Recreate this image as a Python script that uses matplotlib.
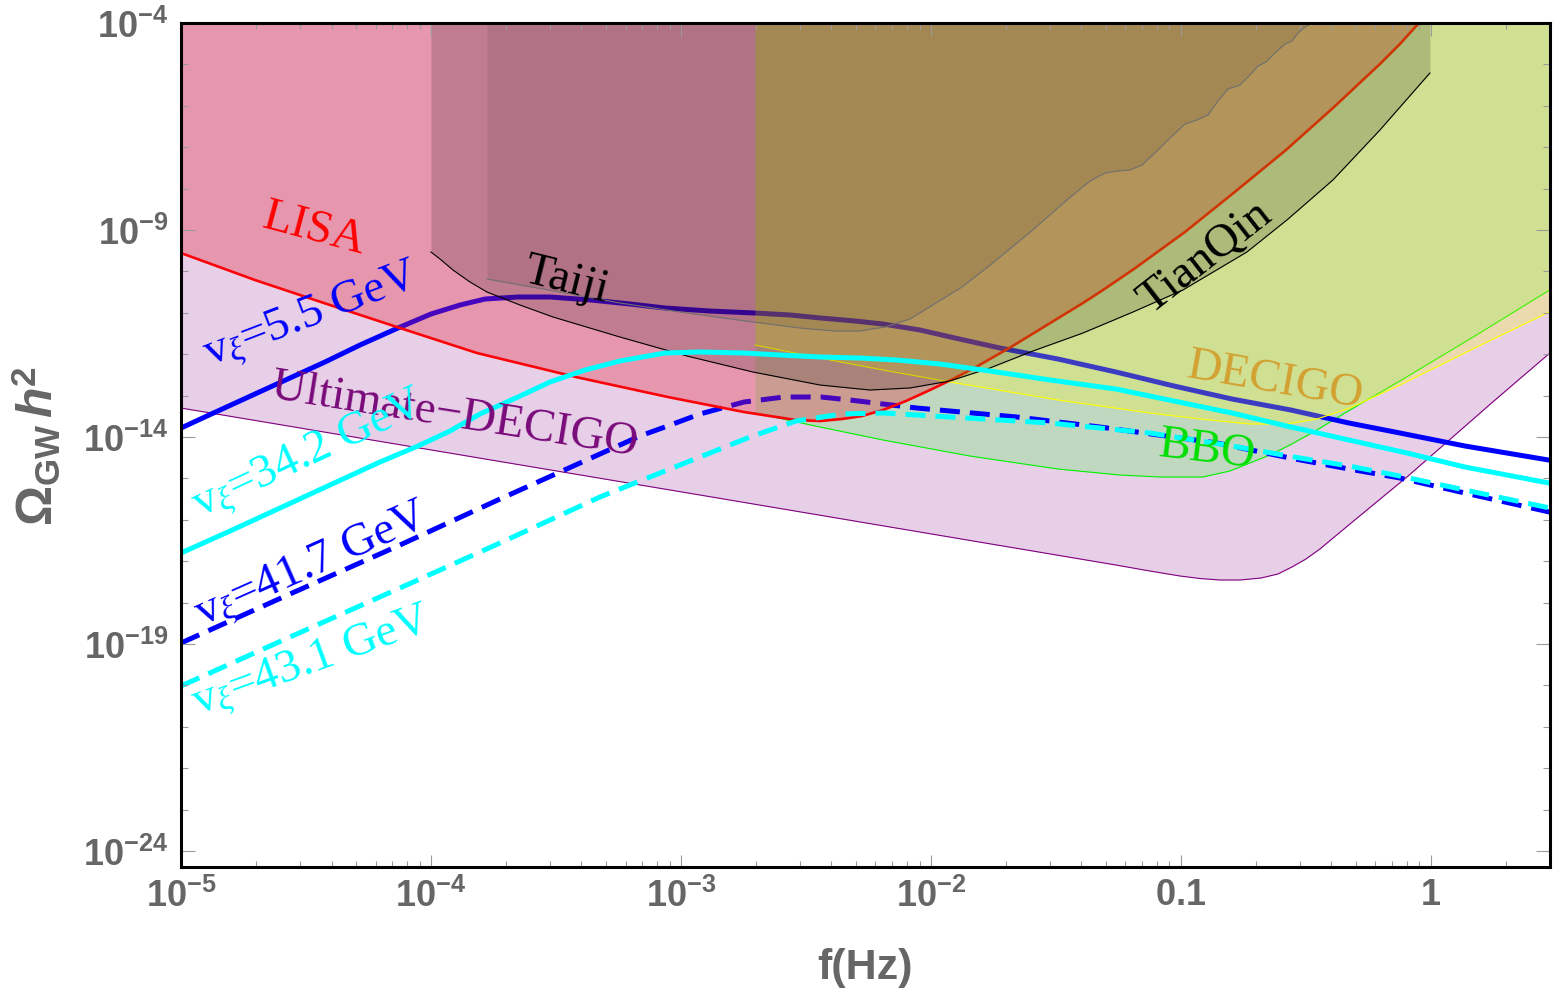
import numpy as np
import matplotlib
matplotlib.use("Agg")
import matplotlib.pyplot as plt
from matplotlib import font_manager as fm
from matplotlib.ticker import FixedLocator, FixedFormatter, NullFormatter

# ---------------- data: log10(f/Hz) and log10(Omega h^2) ----------------
lisa_logf = [-5.000, -4.704, -4.404, -4.124, -3.816, -3.420, -3.052, -2.748, -2.540, -2.444,
             -2.356, -2.276, -2.192, -2.100, -2.004, -1.912, -1.820, -1.680, -1.536, -1.392,
             -1.324, -1.188, -0.984, -0.780, -0.580, -0.392, -0.204, -0.124, -0.048]
lisa_logomega = [-9.556, -10.208, -10.812, -11.367, -11.971, -12.551, -13.034, -13.396, -13.589, -13.614,
                 -13.565, -13.493, -13.348, -13.130, -12.865, -12.599, -12.309, -11.826, -11.295, -10.763,
                 -10.498, -9.942, -9.048, -8.058, -7.068, -6.053, -4.990, -4.507, -4.000]

tianqin_logf = [-4.000, -3.964, -3.912, -3.844, -3.776, -3.644, -3.512, -3.244, -2.976, -2.712,
                -2.444, -2.244, -2.084, -1.924, -1.764, -1.592, -1.392, -1.192, -0.992, -0.736,
                -0.576, -0.392, -0.204, -0.004]
tianqin_logomega = [-9.531, -9.700, -9.966, -10.256, -10.498, -10.812, -11.101, -11.585, -12.043, -12.430,
                    -12.744, -12.865, -12.816, -12.647, -12.333, -11.923, -11.488, -10.981, -10.449, -9.531,
                    -8.758, -7.792, -6.585, -5.208]

taiji_logf = [-3.776, -3.484, -3.244, -2.976, -2.712, -2.524, -2.384, -2.284, -2.184, -2.084,
              -1.980, -1.876, -1.768, -1.612, -1.456, -1.364, -1.304, -1.252, -1.204, -1.156,
              -1.100, -1.044, -0.984, -0.936, -0.892, -0.852, -0.812, -0.764, -0.724, -0.692,
              -0.660, -0.620, -0.584, -0.556, -0.532, -0.504, -0.476]
taiji_logomega = [-10.184, -10.498, -10.763, -11.005, -11.222, -11.367, -11.440, -11.440, -11.343, -11.150,
                  -10.763, -10.377, -9.870, -9.097, -8.275, -7.816, -7.623, -7.575, -7.551, -7.430,
                  -7.116, -6.778, -6.440, -6.343, -6.222, -5.884, -5.594, -5.498, -5.256, -5.039,
                  -4.942, -4.700, -4.507, -4.435, -4.242, -4.097, -4.000]

decigo_logf = [-2.704, -2.444, -2.192, -1.924, -1.492, -1.124, -0.924, -0.724, -0.576, -0.456,
               -0.324, -0.124, 0.176, 0.48]
decigo_logomega = [-11.778, -12.092, -12.382, -12.671, -13.106, -13.420, -13.565, -13.686, -13.686, -13.565,
                   -13.300, -12.744, -11.850, -10.960]

bbo_logf = [-2.704, -2.444, -2.192, -1.844, -1.492, -1.244, -1.084, -0.912, -0.804, -0.724,
            -0.644, -0.564, -0.456, -0.324, -0.124, 0.176, 0.48]
bbo_logomega = [-13.420, -13.758, -14.072, -14.459, -14.773, -14.918, -14.966, -14.966, -14.821, -14.628,
                -14.435, -14.193, -13.831, -13.348, -12.647, -11.560, -10.430]

udecigo_logf = [-5.000, -2.924, -1.260, -1.124, -1.004, -0.924, -0.844, -0.764, -0.680, -0.612,
                -0.556, -0.500, -0.444, -0.324, -0.096, 0.252, 0.48]
udecigo_logomega = [-13.300, -15.401, -17.092, -17.237, -17.357, -17.418, -17.454, -17.454, -17.406, -17.309,
                    -17.140, -16.947, -16.705, -16.101, -14.966, -13.130, -11.950]

v55_logf = [-5.000, -4.844, -4.704, -4.564, -4.424, -4.284, -4.132, -4.000, -3.884, -3.784,
            -3.652, -3.524, -3.360, -3.204, -3.064, -2.884, -2.704, -2.564, -2.440, -2.304,
            -2.192, -2.044, -1.904, -1.724, -1.492, -1.260, -1.028, -0.796, -0.560, -0.328,
            -0.124, 0.136, 0.48]
v55_logomega = [-13.783, -13.348, -12.961, -12.575, -12.188, -11.778, -11.367, -11.029, -10.812, -10.667,
                -10.618, -10.618, -10.691, -10.787, -10.884, -10.957, -11.005, -11.053, -11.126, -11.198,
                -11.271, -11.415, -11.609, -11.850, -12.116, -12.430, -12.768, -13.082, -13.348, -13.662,
                -13.903, -14.217, -14.565]

v342_logf = [-5.000, -4.804, -4.604, -4.404, -4.204, -4.052, -3.924, -3.804, -3.652, -3.524,
             -3.384, -3.244, -3.064, -2.924, -2.748, -2.604, -2.440, -2.284, -2.136, -1.964,
             -1.792, -1.656, -1.524, -1.260, -1.028, -0.796, -0.560, -0.328, -0.096, 0.136, 0.48]
v342_logomega = [-16.802, -16.271, -15.715, -15.159, -14.604, -14.217, -13.855, -13.444, -13.034, -12.671,
                 -12.382, -12.164, -11.971, -11.947, -11.971, -12.019, -12.068, -12.092, -12.140, -12.237,
                 -12.382, -12.502, -12.623, -12.841, -13.130, -13.420, -13.758, -14.072, -14.386, -14.725,
                 -15.120]

v417_logf = [-5.000, -4.564, -4.124, -3.724, -3.404, -3.164, -3.064, -2.924, -2.748, -2.588,
             -2.440, -2.324, -2.192, -2.056, -1.656, -1.324, -0.856, -0.564, -0.328, -0.124,
             0.136, 0.48]
v417_logomega = [-18.976, -17.792, -16.609, -15.498, -14.628, -13.976, -13.758, -13.444, -13.155, -13.034,
                 -13.034, -13.106, -13.203, -13.300, -13.517, -13.758, -14.145, -14.507, -14.773, -14.990,
                 -15.353, -15.820]

v431_logf = [-5.000, -4.564, -4.124, -3.724, -3.324, -2.924, -2.724, -2.540, -2.356, -2.192,
             -1.924, -1.524, -1.124, -0.796, -0.524, -0.328, -0.124, 0.136, 0.48]
v431_logomega = [-20.014, -18.831, -17.647, -16.560, -15.449, -14.483, -14.000, -13.614, -13.444, -13.420,
                 -13.517, -13.662, -13.903, -14.217, -14.507, -14.700, -14.942, -15.280, -15.720]

x_ticks = [1e-5, 1e-4, 1e-3, 1e-2, 1e-1, 1.0]
x_tick_labels = [r"$\mathbf{10^{-5}}$", r"$\mathbf{10^{-4}}$", r"$\mathbf{10^{-3}}$",
                 r"$\mathbf{10^{-2}}$", r"$\mathbf{0.1}$", r"$\mathbf{1}$"]
y_ticks = [1e-24, 1e-19, 1e-14, 1e-9, 1e-4]
y_tick_labels = [r"$\mathbf{10^{-24}}$", r"$\mathbf{10^{-19}}$", r"$\mathbf{10^{-14}}$",
                 r"$\mathbf{10^{-9}}$", r"$\mathbf{10^{-4}}$"]

# ---------------- fonts ----------------
names = {f.name for f in fm.fontManager.ttflist}
NARROW = "Liberation Sans Narrow" in names
SANS = "Liberation Sans Narrow" if NARROW else "Liberation Sans"
rc = plt.rcParams
rc["mathtext.fontset"] = "custom"
rc["mathtext.rm"] = SANS + ":bold"
rc["mathtext.bf"] = SANS + ":bold"
rc["mathtext.sf"] = SANS + ":bold"
rc["mathtext.it"] = "Liberation Serif:italic"
HAS_BFIT = True
try:
    rc["mathtext.bfit"] = SANS + ":italic:bold"
except KeyError:
    HAS_BFIT = False

def P(v):
    return np.power(10.0, np.asarray(v, dtype=float))

TOP = 1e-4
fig = plt.figure(figsize=(15.63, 10), dpi=100)
ax = fig.add_axes([181 / 1563, 1 - 867 / 1000, 1369 / 1563, 844 / 1000])
ax.set_xscale("log")
ax.set_yscale("log")
ax.set_xlim(1e-5, 10 ** 0.4764)
ax.set_ylim(10 ** -24.386, TOP)

# Ultimate-DECIGO
ax.fill_between(P(udecigo_logf), P(udecigo_logomega), TOP, color=(0.5, 0, 0.5), alpha=0.19, lw=0, zorder=1)
ax.plot(P(udecigo_logf), P(udecigo_logomega), color=(0.5, 0, 0.5), lw=0.8, zorder=1.05)
# BBO
ax.fill_between(P(bbo_logf), P(bbo_logomega), TOP, color=(0, 1, 0), alpha=0.17, lw=0, zorder=1.1)
ax.plot(P(bbo_logf), P(bbo_logomega), color=(0, 0.95, 0), lw=0.8, zorder=1.15)
# blue curves (under detector fills)
ax.plot(P(v55_logf), P(v55_logomega), color="blue", lw=3.6, zorder=2)
ax.plot(P(v417_logf), P(v417_logomega), color="blue", lw=3.6, zorder=2, dashes=(4, 2))
# LISA
ax.plot(P(lisa_logf), P(lisa_logomega), color="red", lw=1.9, zorder=2.9)
ax.fill_between(P(lisa_logf), P(lisa_logomega), TOP, color=(0.9, 0.08, 0.16), alpha=0.30, lw=0, zorder=3)
# DECIGO
ax.fill_between(P(decigo_logf), P(decigo_logomega), TOP, color=(1, 1, 0), alpha=0.24, lw=0, zorder=3.1)
ax.plot(P(decigo_logf), P(decigo_logomega), color=(1, 1, 0), lw=0.8, zorder=3.15)
# TianQin (black edge)
ax.fill_between(P(tianqin_logf), P(tianqin_logomega), TOP, color="black", alpha=0.165, lw=0, zorder=3.2)
ax.plot(P(tianqin_logf), P(tianqin_logomega), color="black", lw=0.8, zorder=3.25)
# Taiji (grey edge)
ax.fill_between(P(taiji_logf), P(taiji_logomega), TOP, color="black", alpha=0.083, lw=0, zorder=3.3)
ax.plot(P(taiji_logf), P(taiji_logomega), color="#707070", lw=0.8, zorder=3.35)
# cyan curves (on top)
ax.plot(P(v342_logf), P(v342_logomega), color="cyan", lw=3.6, zorder=4)
ax.plot(P(v431_logf), P(v431_logomega), color="cyan", lw=3.6, zorder=4, dashes=(4, 2))

# labels
SERIF = "Liberation Serif"
def lab(x, y, s, rot, color, size=34):
    ax.text(x, y, s, transform=ax.transAxes, rotation=rot, rotation_mode="anchor",
            ha="center", va="center", fontsize=size, family=SERIF, color=color, zorder=5)

lab(0.0972, 0.7547, "LISA", -15, "red")
lab(0.2812, 0.6943, "Taiji", -14, "black")
lab(0.7480, 0.7216, "TianQin", 38, "black")
lab(0.7991, 0.5758, "DECIGO", -10, "#D4A132")
lab(0.7495, 0.4929, "BBO", -7, "#00E000")
lab(0.2001, 0.5344, "Ultimate\u2212DECIGO", -9, "#7A0A7A")
lab(0.0957, 0.6528, r"v$_{\xi}$=5.5 GeV", 21, "blue")
lab(0.0935, 0.4882, r"v$_{\xi}$=34.2 GeV", 25, "cyan")
lab(0.0957, 0.3566, r"v$_{\xi}$=41.7 GeV", 24, "blue")
lab(0.0957, 0.2417, r"v$_{\xi}$=43.1 GeV", 20, "cyan")

# ticks
ax.xaxis.set_major_locator(FixedLocator(x_ticks))
ax.xaxis.set_major_formatter(FixedFormatter(x_tick_labels))
ax.xaxis.set_minor_locator(FixedLocator([k * 10.0 ** e for e in range(-5, 1) for k in range(2, 10)]))
ax.xaxis.set_minor_formatter(NullFormatter())
ax.yaxis.set_major_locator(FixedLocator(y_ticks))
ax.yaxis.set_major_formatter(FixedFormatter(y_tick_labels))
ax.yaxis.set_minor_locator(FixedLocator([10.0 ** e for e in range(-24, -3)]))
ax.yaxis.set_minor_formatter(NullFormatter())
tsize = 28 if NARROW else 26
ax.tick_params(which="both", direction="in", top=True, right=True, color="#9a9a9a",
               width=0.8, labelcolor="#666666", labelsize=tsize)
ax.tick_params(axis="x", which="major", length=9, pad=8)
ax.tick_params(axis="x", which="minor", length=4.5)
ax.tick_params(axis="y", which="major", length=10, pad=9)
ax.tick_params(axis="y", which="minor", length=5)
ax.xaxis.set_zorder(6)
ax.yaxis.set_zorder(6)
for s in ax.spines.values():
    s.set_linewidth(2.2)
    s.set_color("black")
    s.set_zorder(7)

fig.text(865 / 1563, 1 - 968 / 1000, "f(Hz)", ha="center", va="center",
         fontsize=36 if NARROW else 31, fontweight="bold", family=SANS, color="#666666")
ylab = (r"$\mathbf{\Omega_{GW}}\,\mathbfit{h}^{\mathbf{2}}$" if HAS_BFIT
        else r"$\mathbf{\Omega_{GW}}\,\mathbf{h}^{\mathbf{2}}$")
fig.text(36 / 1563, 1 - 446 / 1000, ylab, rotation=90, ha="center", va="center",
         fontsize=38 if NARROW else 36, color="#666666")

fig.savefig("out.png", dpi=100)
